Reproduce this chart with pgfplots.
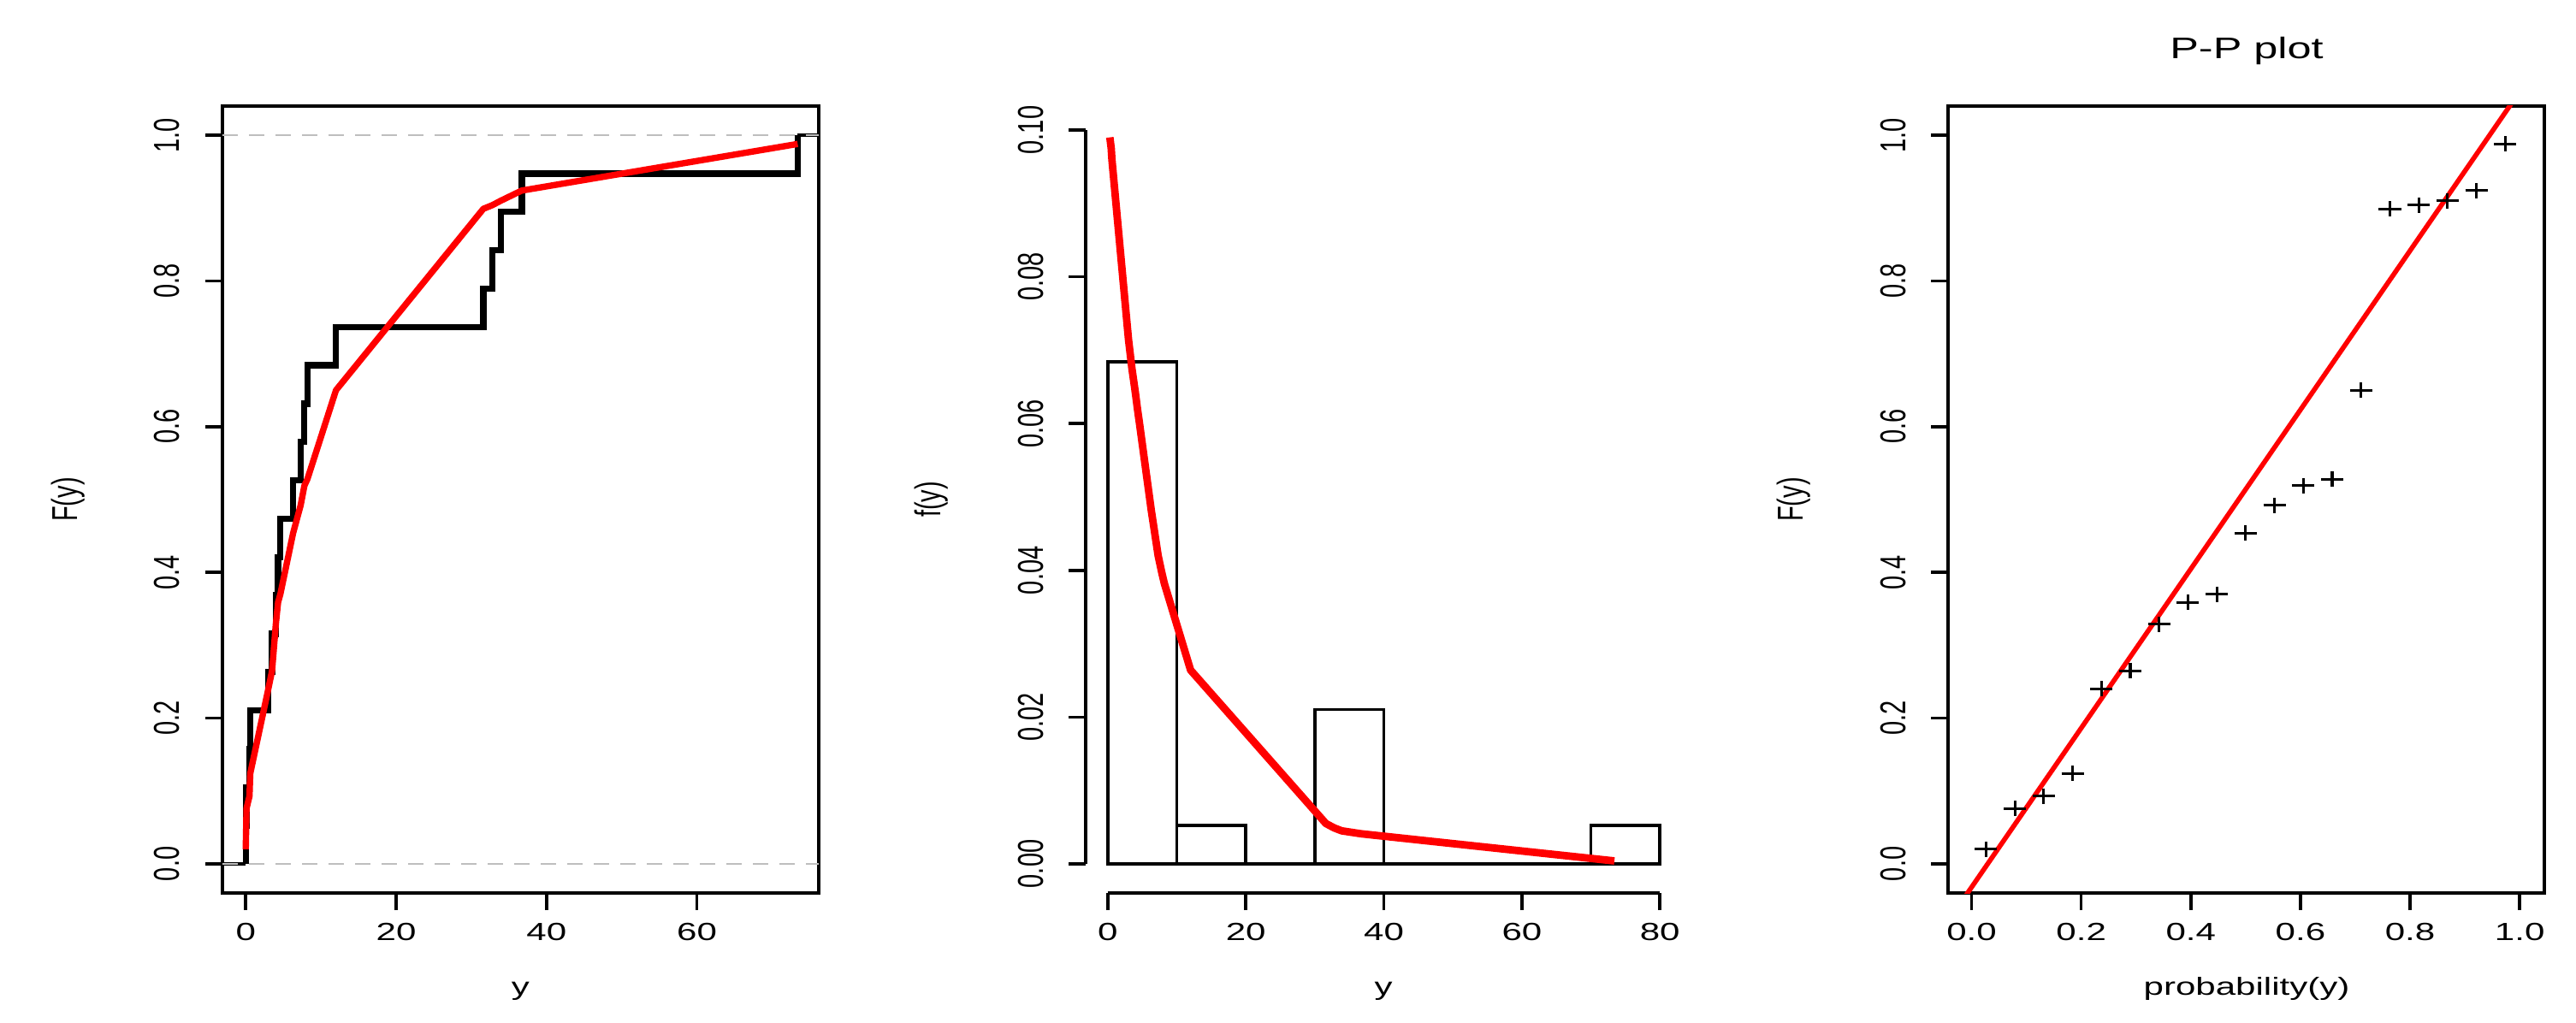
\documentclass[border=0pt]{standalone}
\usepackage{fontspec}
\setmainfont{Liberation Sans}[FakeStretch=1.45]
\newfontfamily\rotfont{Liberation Sans}
\usepackage{graphicx}
\usepackage{pgfplots}
\pgfplotsset{compat=1.18}
\definecolor{rgrey}{HTML}{BEBEBE}
\definecolor{rred}{HTML}{FF0000}
\newcommand{\fs}{\fontsize{8.25}{9.9}\selectfont}
\newcommand{\rl}[1]{\scalebox{1}[1.45]{\rotfont\fs #1}}
\pgfplotsset{
  rpanel/.style={
    scale only axis, width=6.97cm, height=9.20cm, anchor=south west,
    tick align=outside, major tick length=0.2cm,
    tick style={line width=1pt, black},
    axis line style={line width=1pt},
    tick label style={font=\fs},
    xticklabel style={anchor=base, yshift=-0.35cm},
    yticklabel style={xshift=-0.30cm, rotate=90, anchor=base},
    tick pos=left,
  }
}
\begin{document}
\begin{tikzpicture}
\path (0,0) rectangle (30.11cm,-11.96cm);
% ---------------- Panel 1: ECDF ----------------
\begin{axis}[rpanel, at={(2.60cm,-10.44cm)},
  xmin=-3.1, xmax=76.2, ymin=-0.04, ymax=1.04,
  xtick={0,20,40,60}, xticklabels={0,20,40,60},
  ytick={0,0.2,0.4,0.6,0.8,1.0},
  yticklabels={\rl{0.0},\rl{0.2},\rl{0.4},\rl{0.6},\rl{0.8},\rl{1.0}}]
\addplot[black, line width=1pt] coordinates {(-3.1,0) (0.0,0)};
\addplot[black, line width=1pt] coordinates {(73.4,1) (76.2,1)};
\addplot[black, line width=2.1pt, const plot mark right] coordinates {
(0.0,0) (0.1,0.0526) (0.5,0.1053) (0.6,0.1579) (3.0,0.2105) (3.5,0.2632)
(4.0,0.3158) (4.3,0.3684) (4.6,0.4211) (6.3,0.4737) (7.3,0.5263) (7.8,0.5789)
(8.2,0.6316) (12.0,0.6842) (31.6,0.7368) (32.8,0.7895) (33.9,0.8421)
(36.7,0.8947) (73.4,0.9474) (73.4,1.0)};
\addplot[rgrey, line width=0.8pt, dash pattern=on 0.18cm off 0.13cm] coordinates {(-3.1,0) (76.2,0)};
\addplot[rgrey, line width=0.8pt, dash pattern=on 0.18cm off 0.13cm] coordinates {(-3.1,1) (76.2,1)};
\addplot[rred, line width=2.1pt, line join=round] coordinates {
(0.0,0.020) (0.1,0.076) (0.5,0.093) (0.6,0.124) (3.0,0.240) (3.5,0.265)
(4.0,0.329) (4.3,0.359) (4.6,0.370) (6.3,0.454) (7.3,0.492) (7.8,0.519)
(8.2,0.528) (12.0,0.650) (31.6,0.899) (32.8,0.904) (33.9,0.910)
(36.7,0.924) (73.4,0.988)};
\end{axis}
% ---------------- Panel 2: histogram + density ----------------
\begin{axis}[rpanel, at={(12.69cm,-10.44cm)}, clip=false,
  axis x line*=bottom, axis y line*=left,
  axis line style={draw=none},
  xmin=-3.2, xmax=83.2, ymin=-0.00397, ymax=0.10327,
  xtick={0,20,40,60,80}, xticklabels={0,20,40,60,80},
  ytick={0,0.02,0.04,0.06,0.08,0.10},
  yticklabels={\rl{0.00},\rl{0.02},\rl{0.04},\rl{0.06},\rl{0.08},\rl{0.10}}]
\addplot[ybar interval, draw=black, fill=none, line width=1pt] coordinates {
(0,0.06842) (10,0.00526) (20,0) (30,0.02105) (40,0) (50,0) (60,0) (70,0.00526) (80,0)};
\draw[line width=1pt] (axis cs:0,-0.00397) -- (axis cs:80,-0.00397);
\draw[line width=1pt] (axis cs:-3.2,0) -- (axis cs:-3.2,0.1);
\addplot[rred, line width=2.5pt, line join=round] coordinates {
(0.3,0.0990) (0.5,0.0975) (0.6,0.0960) (3.0,0.0715) (3.5,0.0675)
(4.0,0.0642) (4.3,0.0620) (4.6,0.0600) (6.3,0.0482) (7.3,0.0420) (7.8,0.0398)
(8.2,0.0382) (12.0,0.0264) (31.6,0.0055) (32.8,0.0049) (33.9,0.0045)
(36.7,0.0041) (73.4,0.0004)};
\end{axis}
% ---------------- Panel 3: P-P plot ----------------
\begin{axis}[rpanel, at={(22.77cm,-10.44cm)},
  xmin=-0.043, xmax=1.045, ymin=-0.04, ymax=1.04,
  xtick={0,0.2,0.4,0.6,0.8,1.0}, xticklabels={0.0,0.2,0.4,0.6,0.8,1.0},
  ytick={0,0.2,0.4,0.6,0.8,1.0},
  yticklabels={\rl{0.0},\rl{0.2},\rl{0.4},\rl{0.6},\rl{0.8},\rl{1.0}}]
\addplot[only marks, mark=+, mark size=0.09cm, mark options={xscale=1.45, line width=0.9pt, black}] coordinates {
(0.0263,0.020) (0.0789,0.076) (0.1316,0.093) (0.1842,0.124) (0.2368,0.240)
(0.2895,0.265) (0.3421,0.329) (0.3947,0.359) (0.4474,0.370) (0.5000,0.454)
(0.5526,0.492) (0.6053,0.519) (0.6579,0.528) (0.7105,0.650) (0.7632,0.899)
(0.8158,0.904) (0.8684,0.910) (0.9211,0.924) (0.9737,0.988)};
\addplot[rred, line width=1.6pt] coordinates {(-0.05,-0.0866) (1.05,1.1146)};
\end{axis}
% ---------------- Labels ----------------
\node[font=\fs, anchor=base] at (6.085cm,-11.63cm) {y};
\node[font=\fs, anchor=base] at (16.17cm,-11.63cm) {y};
\node[font=\fs, anchor=base] at (26.26cm,-11.63cm) {probability(y)};
\node[rotate=90, anchor=center] at (0.80cm,-5.84cm) {\rl{F(y)}};
\node[rotate=90, anchor=center] at (10.89cm,-5.84cm) {\rl{f(y)}};
\node[rotate=90, anchor=center] at (20.97cm,-5.84cm) {\rl{F(y)}};
\node[font=\fontsize{9.9}{11.9}\selectfont, anchor=base] at (26.26cm,-0.69cm) {P-P plot};
\end{tikzpicture}
\end{document}
